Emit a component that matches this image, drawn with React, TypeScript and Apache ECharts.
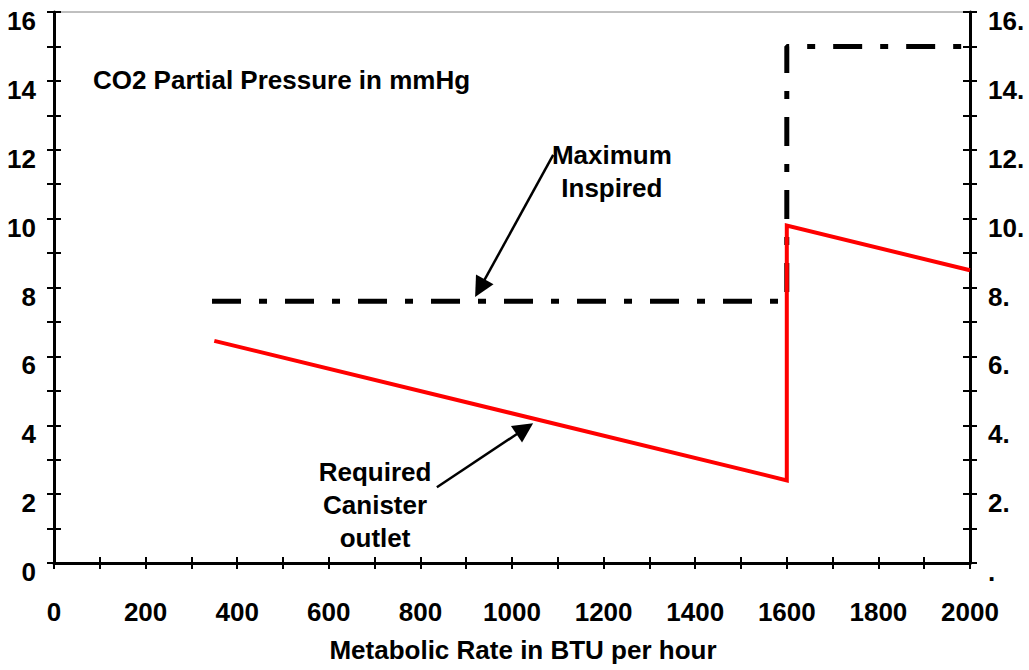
import React, { useEffect, useRef } from "react";
import * as echarts from "echarts";

// ---- data ----
const xTicks = { min: 0, max: 2000, step: 100 };
const yTicks = { min: 0, max: 16, step: 1 };

const canisterOutlet: [number, number][] = [
  [350, 6.45],
  [1600, 2.4],
  [1600, 9.8],
  [2000, 8.5],
];

const maxInspired: [number, number][] = [
  [345, 7.6],
  [1600, 7.6],
  [1600, 15.0],
  [2000, 15.0],
];

const annotationTexts = [
  { name: "Maximum\nInspired", coord: [1218, 11.38], align: "center" },
  { name: "Required\nCanister\noutlet", coord: [701, 1.68], align: "center" },
  { name: "CO2 Partial Pressure in mmHg", coord: [85, 14.02], align: "left" },
];

// arrow ends are the centres of the triangular heads
const annotationArrows = [
  { from: [1090, 11.85], to: [930, 7.98] },
  { from: [836, 2.2], to: [1028, 3.9] },
];

const xTitle = "Metabolic Rate in BTU per hour";

const FONT = "'Liberation Sans', Arial, Helvetica, sans-serif";
const FS = 26;

export default function App() {
  const ref = useRef<HTMLDivElement>(null);

  useEffect(() => {
    if (!ref.current) return;
    const chart = echarts.init(ref.current, undefined, { renderer: "svg" });

    const baseText = {
      color: "#000",
      fontFamily: FONT,
      fontWeight: "bold" as const,
      fontSize: FS,
    };

    const xCommon = {
      type: "value" as const,
      min: xTicks.min,
      max: xTicks.max,
      interval: xTicks.step,
      position: "bottom" as const,
      splitLine: { show: false },
    };
    const yCommon = {
      type: "value" as const,
      min: yTicks.min,
      max: yTicks.max,
      interval: yTicks.step,
      splitLine: { show: false },
    };

    const option: any = {
      animation: false,
      backgroundColor: "#fff",
      grid: {
        left: 54,
        right: 59,
        top: 12,
        bottom: 107,
        show: true,
        borderColor: "#808080",
        borderWidth: 1,
        backgroundColor: "transparent",
      },
      xAxis: [
        {
          ...xCommon,
          axisLine: { show: true, lineStyle: { color: "#000", width: 3 } },
          axisTick: { show: true, length: 6, lineStyle: { color: "#000", width: 2 } },
          axisLabel: {
            ...baseText,
            margin: 36,
            formatter: (v: number) => (v % 200 === 0 ? String(v) : ""),
          },
          name: xTitle,
          nameLocation: "middle",
          nameGap: 74,
          nameTextStyle: { ...baseText, padding: [0, 0, 0, 22] },
        },
        {
          ...xCommon,
          axisLine: { show: false },
          axisTick: { show: true, inside: true, length: 6, lineStyle: { color: "#000", width: 2 } },
          axisLabel: { show: false },
        },
      ],
      yAxis: [
        {
          ...yCommon,
          position: "left",
          axisLine: { show: true, lineStyle: { color: "#000", width: 3 } },
          axisTick: { show: true, length: 7, lineStyle: { color: "#000", width: 2 } },
          axisLabel: {
            ...baseText,
            margin: 18,
            verticalAlign: "top",
            lineHeight: 18,
            formatter: (v: number) => (v % 2 === 0 ? String(v) : ""),
          },
        },
        {
          ...yCommon,
          position: "left",
          axisLine: { show: false },
          axisTick: { show: true, inside: true, length: 7, lineStyle: { color: "#000", width: 2 } },
          axisLabel: { show: false },
        },
        {
          ...yCommon,
          position: "right",
          axisLine: { show: true, lineStyle: { color: "#000", width: 3 } },
          axisTick: { show: true, length: 7, lineStyle: { color: "#000", width: 2 } },
          axisLabel: {
            ...baseText,
            margin: 18,
            verticalAlign: "top",
            lineHeight: 18,
            formatter: (v: number) =>
              v === 0 ? "." : v % 2 === 0 ? String(v) + "." : "",
          },
        },
        {
          ...yCommon,
          position: "right",
          axisLine: { show: false },
          axisTick: { show: true, inside: true, length: 7, lineStyle: { color: "#000", width: 2 } },
          axisLabel: { show: false },
        },
      ],
      series: [
        {
          name: "Maximum Inspired",
          type: "line",
          xAxisIndex: 0,
          yAxisIndex: 0,
          data: maxInspired,
          symbol: "none",
          silent: true,
          lineStyle: { color: "#000", width: 5, type: [29, 18, 8, 18], cap: "butt" },
          markLine: {
            silent: true,
            symbol: ["none", "triangle"],
            symbolSize: 20,
            label: { show: false },
            lineStyle: { color: "#000", width: 2.5, type: "solid" },
            itemStyle: { color: "#000" },
            emphasis: { disabled: true },
            data: annotationArrows.map((a) => [{ coord: a.from }, { coord: a.to }]),
          },
        },
        {
          name: "Required Canister outlet",
          type: "line",
          xAxisIndex: 0,
          yAxisIndex: 0,
          data: canisterOutlet,
          symbol: "none",
          silent: true,
          lineStyle: { color: "#ff0000", width: 4, join: "miter" },
          markPoint: {
            silent: true,
            symbol: "circle",
            symbolSize: 0,
            itemStyle: { color: "transparent" },
            data: annotationTexts.map((t) => ({
              name: t.name,
              coord: t.coord,
              label: {
                show: true,
                ...baseText,
                formatter: "{b}",
                position: t.align === "left" ? "right" : "inside",
                distance: 0,
                align: t.align,
                verticalAlign: "middle",
                lineHeight: 33,
              },
            })),
          },
        },
      ],
    };

    chart.setOption(option);
    return () => chart.dispose();
  }, []);

  return (
    <div
      ref={ref}
      style={{ position: "fixed", left: 0, top: 0, width: 1029, height: 670, background: "#fff" }}
    />
  );
}
